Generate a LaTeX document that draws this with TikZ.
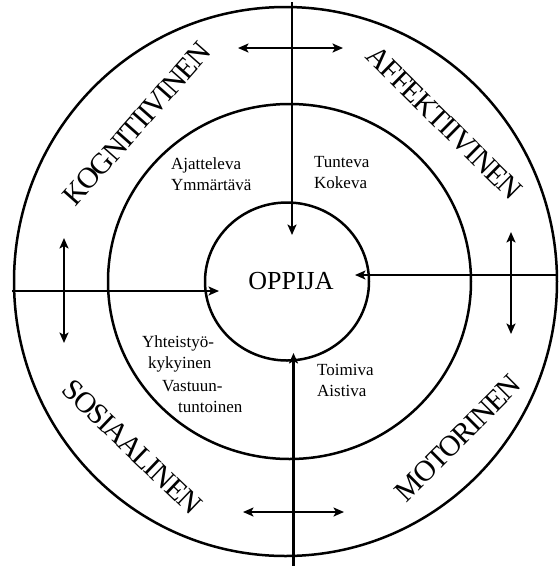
\documentclass[tikz,border=0pt]{standalone}
\usepackage{fontspec}
\setmainfont{Liberation Serif}
\usetikzlibrary{arrows.meta}
\begin{document}
\begin{tikzpicture}[x=1pt,y=-1pt,
  ring/.style={line width=2.5pt},
  tipd/.tip={Stealth[length=10.5pt,width=9pt,inset=2.5pt]},
  conn/.style={line width=2.5pt,-tipd},
  dbl/.style={line width=2.5pt,tipd-tipd},
  big/.style={font=\fontsize{26}{30}\selectfont, inner sep=0pt},
  ringlab/.style={font=\fontsize{29.5}{32}\selectfont\addfontfeature{LetterSpace=-5}, inner sep=0pt},
  small/.style={font=\fontsize{17}{21}\selectfont, align=left, inner sep=0pt, anchor=west}]
\useasboundingbox (0,0) rectangle (558,566);
% rings
\draw[ring] (285.5,281.5) ellipse [x radius=271.5pt, y radius=274.5pt];
\draw[ring] (289.5,281.5) ellipse [x radius=181.5pt, y radius=177.5pt];
\draw[ring] (287,281.5) ellipse [x radius=82pt, y radius=79pt];
% centre
\node[big] (oppija) at (291,281) {OPPIJA};
% radial arrows
\coordinate (topS) at (292,2);   \coordinate (topE) at (292,235);
\coordinate (botS) at (293.5,566); \coordinate (botE) at (293.5,353);
\coordinate (lefS) at (12,291);  \coordinate (lefE) at (219,291);
\coordinate (rigS) at (558,275); \coordinate (rigE) at (355,275);
\draw[conn] (topS) -- (topE);
\draw[conn] (botS) -- (botE);
\draw[conn] (lefS) -- (lefE);
\draw[conn] (rigS) -- (rigE);
% double arrows
\coordinate (dtA) at (238,48);  \coordinate (dtB) at (343,48);
\coordinate (dbA) at (243,512); \coordinate (dbB) at (344,512);
\coordinate (dlA) at (64,238);  \coordinate (dlB) at (64,343);
\coordinate (drA) at (511,232); \coordinate (drB) at (511,334);
\draw[dbl] (dtA) -- (dtB);
\draw[dbl] (dbA) -- (dbB);
\draw[dbl] (dlA) -- (dlB);
\draw[dbl] (drA) -- (drB);
% ring labels
\node[ringlab, rotate=48.5] (kog) at (137,124) {KOGNITIIVINEN};
\node[ringlab, rotate=-44.6] (aff) at (444,123) {AFFEKTIIVINEN};
\node[ringlab, rotate=-43.7] (sos) at (132,447) {SOSIAALINEN};
\node[ringlab, rotate=45] (mot) at (458,438) {MOTORINEN};
% inner labels
\node[small] (ajat) at (171,174) {Ajatteleva\\Ymmärtävä};
\node[small] (tunt) at (314,173) {Tunteva\\Kokeva};
\node[small] (toim) at (317,380) {Toimiva\\Aistiva};
\node[small] (yh1) at (142,343) {Yhteistyö-};
\node[small] (yh2) at (148,364) {kykyinen};
\node[small] (yh3) at (162,386) {Vastuun-};
\node[small] (yh4) at (178,407) {tuntoinen};
\end{tikzpicture}
\end{document}
